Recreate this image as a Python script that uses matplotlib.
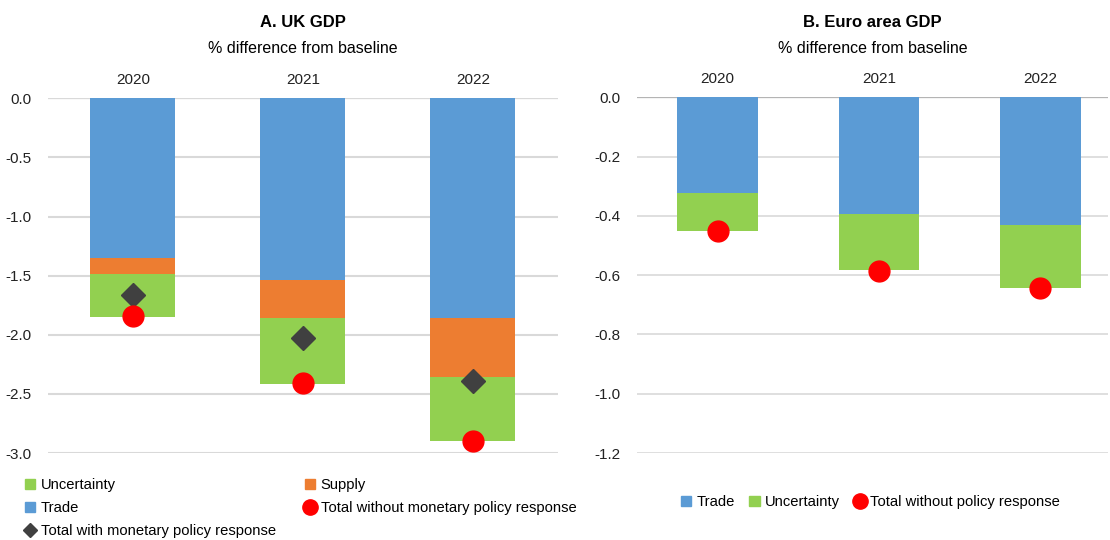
import numpy as np
import matplotlib.pyplot as plt
from matplotlib.lines import Line2D
from matplotlib.patches import Patch

plt.rcParams['font.family'] = ['Liberation Sans', 'DejaVu Sans']

# data
years = ['2020', '2021', '2022']

uk_trade = [-1.35, -1.54, -1.86]
uk_supply = [-0.14, -0.32, -0.50]
uk_uncert = [-0.36, -0.56, -0.54]
uk_total_without = [-1.84, -2.41, -2.90]
uk_total_with = [-1.66, -2.03, -2.39]

ea_trade = [-0.324, -0.394, -0.431]
ea_uncert = [-0.126, -0.190, -0.212]
ea_total_without = [-0.45, -0.585, -0.643]

uk_ticks = [-3.0, -2.5, -2.0, -1.5, -1.0, -0.5, 0.0]
ea_ticks = [-1.2, -1.0, -0.8, -0.6, -0.4, -0.2, 0.0]

c_trade = '#5B9BD5'
c_supply = '#ED7D31'
c_uncert = '#92D050'
c_red = '#FF0000'
c_dia = '#404040'

fig = plt.figure(figsize=(11.1, 5.4), dpi=100)
axA = fig.add_axes([0.0432, 0.161, 0.4595, 0.657])
axB = fig.add_axes([0.5739, 0.161, 0.4243, 0.659])

x = np.arange(len(years))
w = 0.5

# panel A
trade = np.array(uk_trade)
supply = np.array(uk_supply)
unc = np.array(uk_uncert)
axA.bar(x, trade, w, color=c_trade, zorder=2)
axA.bar(x, supply, w, bottom=trade, color=c_supply, zorder=2)
axA.bar(x, unc, w, bottom=trade + supply, color=c_uncert, zorder=2)
axA.plot(x, uk_total_with, 'D', color=c_dia, ms=12, ls='none', zorder=3)
axA.plot(x, uk_total_without, 'o', color=c_red, ms=15, ls='none', zorder=3)
axA.set_ylim(-3.0, 0)
axA.set_yticks(uk_ticks)
axA.set_yticklabels(['%.1f' % v for v in uk_ticks])
axA.set_xlim(-0.5, 2.5)
axA.grid(axis='y', color='#D9D9D9', lw=1.5, zorder=0)
axA.axhline(0, color='#A6A6A6', lw=1.5, zorder=1)

# panel B
tb = np.array(ea_trade)
ub = np.array(ea_uncert)
axB.bar(x, tb, w, color=c_trade, zorder=2)
axB.bar(x, ub, w, bottom=tb, color=c_uncert, zorder=2)
axB.plot(x, ea_total_without, 'o', color=c_red, ms=15, ls='none', zorder=3)
axB.set_ylim(-1.2, 0)
axB.set_yticks(ea_ticks)
axB.set_yticklabels(['%.1f' % v for v in ea_ticks])
axB.set_xlim(-0.5, 2.42)
axB.grid(axis='y', color='#D9D9D9', lw=1.2, zorder=0)
axB.axhline(0, color='black', lw=1.5, zorder=1)

for ax in (axA, axB):
    for s in ax.spines.values():
        s.set_visible(False)
    ax.set_xticks(x)
    ax.set_xticklabels(years)
    ax.xaxis.tick_top()
    ax.tick_params(length=0, labelsize=11, colors='#222222')
    ax.tick_params(axis='x', pad=8)
    ax.tick_params(axis='y', pad=12)

fig.text(0.273, 0.958, 'A. UK GDP', ha='center', va='center', fontsize=12, fontweight='bold')
fig.text(0.273, 0.91, '% difference from baseline', ha='center', va='center', fontsize=11.5)
fig.text(0.786, 0.958, 'B. Euro area GDP', ha='center', va='center', fontsize=12, fontweight='bold')
fig.text(0.786, 0.91, '% difference from baseline', ha='center', va='center', fontsize=11.5)

hA = [Patch(color=c_uncert), Patch(color=c_trade),
      Line2D([], [], marker='D', color=c_dia, ls='none', ms=7),
      Patch(color=c_supply),
      Line2D([], [], marker='o', color=c_red, ls='none', ms=11)]
lA = ['Uncertainty', 'Trade', 'Total with monetary policy response',
      'Supply', 'Total without monetary policy response']
fig.legend(hA, lA, ncol=2, loc='upper left', bbox_to_anchor=(0.016, 0.128),
           frameon=False, fontsize=10.6, handlelength=0.7, handleheight=0.7,
           handletextpad=0.35, columnspacing=2.0, labelspacing=0.62, borderpad=0)

hB = [Patch(color=c_trade), Patch(color=c_uncert),
      Line2D([], [], marker='o', color=c_red, ls='none', ms=11)]
lB = ['Trade', 'Uncertainty', 'Total without policy response']
fig.legend(hB, lB, ncol=3, loc='center', bbox_to_anchor=(0.784, 0.07),
           frameon=False, fontsize=10.6, handlelength=0.7, handleheight=0.7,
           handletextpad=0.35, columnspacing=1.0, borderpad=0)

fig.savefig('out.png', dpi=100)
